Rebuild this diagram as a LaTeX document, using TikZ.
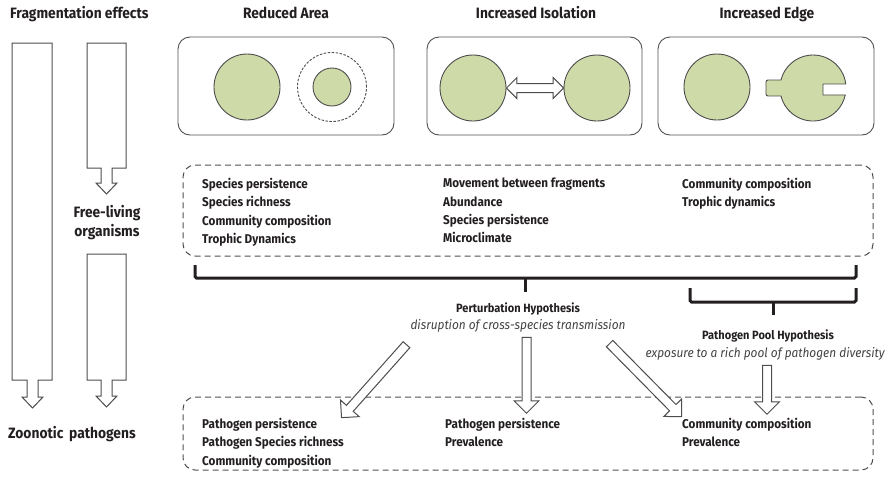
\documentclass[tikz,border=0pt]{standalone}
\usepackage{fontspec}
\setmainfont{Fira Sans}[FakeStretch=0.92]
\usetikzlibrary{shapes.arrows,calc}
\definecolor{leaf}{HTML}{CEDBA8}
\definecolor{ink}{HTML}{231F20}
\definecolor{rim}{HTML}{4D4D4D}
\definecolor{frame}{HTML}{505050}

% block arrow node stretched between two points
\newcommand{\fatlink}[4]{%
  \path let \p1=($(#4)-(#3)$), \n1={atan2(\y1,\x1)}, \n2={veclen(\x1,\y1)} in
    node[#1, minimum height=\n2, rotate=\n1] (#2) at ($(#3)!0.5!(#4)$) {};
}

\begin{document}
\begin{tikzpicture}[x=1pt,y=-1pt,
  every node/.style={text=ink, inner sep=0pt},
  heading/.style={font=\fontsize{15}{17}\selectfont\bfseries, anchor=base},
  item/.style={font=\fontsize{12.7}{18.3}\selectfont\bfseries, align=left, anchor=north west},
  hyp/.style={font=\fontsize{12}{14}\selectfont\bfseries, anchor=base},
  gloss/.style={font=\fontsize{12.9}{14}\selectfont\itshape, text=ink!85, anchor=base},
  panel/.style={draw=frame, line width=0.9pt, rounded corners=12pt},
  patch/.style={circle, draw=rim, fill=leaf, line width=0.9pt, minimum size=66pt},
  zone/.style={draw=frame, line width=1pt, dash pattern=on 6pt off 4pt, rounded corners=12pt},
  brace/.style={draw=ink, line width=3pt, rounded corners=1.5pt},
  outline/.style={draw=rim, fill=white, line width=1pt, line join=miter},
  fatarrow/.style={single arrow, outline, inner xsep=0pt, inner ysep=4pt, single arrow head extend=8pt},
  twoway/.style={double arrow, outline, inner xsep=0pt, inner ysep=4pt, double arrow head extend=6pt},
]
\useasboundingbox (0,0) rectangle (894,482);

% ---- left column: effect arrows ----
\node[heading, anchor=base west] (fragTitle) at (10,18) {Fragmentation effects};
\path[outline] (12,43) -- (52,43) -- (52,380) -- (38,380) -- (38,397) -- (43,397)
  -- (32.5,408) -- (22,397) -- (27,397) -- (27,380) -- (12,380) -- cycle;
\path[outline] (87,43) -- (126,43) -- (126,168) -- (112,168) -- (112,183) -- (117,183)
  -- (106.5,194) -- (96,183) -- (101,183) -- (101,168) -- (87,168) -- cycle;
\path[outline] (87,254) -- (126,254) -- (126,380) -- (112,380) -- (112,396) -- (117,396)
  -- (106.5,407) -- (96,396) -- (101,396) -- (101,380) -- (87,380) -- cycle;
\node[heading] (freeA) at (107,217) {Free-living};
\node[heading] (freeB) at (107,236) {organisms};
\node[heading, anchor=base west] (zoo) at (8,438) {Zoonotic\, pathogens};

% ---- top panels ----
\node[heading] (areaTitle) at (286,18) {Reduced Area};
\node[heading] (isoTitle) at (536,18) {Increased Isolation};
\node[heading] (edgeTitle) at (767,18) {Increased Edge};

\node[panel, minimum width=216pt, minimum height=98pt] (areaPanel) at (286,86) {};
\node[panel, minimum width=215pt, minimum height=98pt] (isoPanel) at (534.5,86) {};
\node[panel, minimum width=216pt, minimum height=98pt] (edgePanel) at (766,86) {};

% reduced area
\node[patch] (areaBig) at (247,87) {};
\node[circle, draw=rim, line width=0.9pt, dash pattern=on 2.5pt off 1.5pt, minimum size=69pt] (areaRing) at (332,87) {};
\node[patch, minimum size=38pt] (areaSmall) at (332,87) {};

% increased isolation
\node[patch] (isoL) at (473,88) {};
\node[patch] (isoR) at (597,88) {};
\path let \p1=($(isoR.west)-(isoL.east)$), \n2={veclen(\x1,\y1)} in
  node[twoway, minimum height=\n2] (isoLink) at ($(isoL.east)!0.5!(isoR.west)$) {};

% increased edge
\node[patch] (edgeL) at (717,87) {};
\begin{scope}[shift={(813,88)}, y=1pt]
  \filldraw[draw=rim, fill=leaf, line width=0.9pt]
    (7:33) arc[start angle=7, end angle=166, radius=33]
    -- (-46,8) [rounded corners=2pt] -- (-47,8) -- (-47,-8) [sharp corners] -- (194:33)
    arc[start angle=194, end angle=347.8, radius=33]
    -- (10,-7) -- (10,4) -- cycle;
\end{scope}

% ---- responses of free-living organisms ----
\node[zone, minimum width=690pt, minimum height=91pt] (freeZone) at (528,210.5) {};
\node[item] (freeA1) at (202,178) {Species persistence\\Species richness\\Community composition\\Trophic Dynamics};
\node[item] (freeA2) at (443,178) {Movement between fragments\\Abundance\\Species persistence\\Microclimate};
\node[item] (freeA3) at (682,178) {Community composition\\Trophic dynamics};

% ---- brackets ----
\draw[brace] (195,265) -- (195,278) -- (856,278) -- (856,265);
\draw[brace] (525,278) -- (525,292);
\draw[brace] (690,288) -- (690,302) -- (856,302) -- (856,288);
\draw[brace] (773,302) -- (773,315);

% ---- hypotheses ----
\node[hyp] (perturb) at (518,312) {Perturbation Hypothesis};
\node[gloss] (perturbGloss) at (518,329) {disruption of cross-species transmission};
\node[hyp] (pool) at (768,339) {Pathogen Pool Hypothesis};
\node[gloss] (poolGloss) at (765,357) {exposure to a rich pool of pathogen diversity};

% ---- responses of zoonotic pathogens ----
\node[zone, minimum width=690pt, minimum height=73pt] (pathZone) at (528,433.5) {};
\node[item] (pathA1) at (202,418) {Pathogen persistence\\Pathogen Species richness\\Community composition};
\node[item] (pathA2) at (445,418) {Pathogen persistence\\Prevalence};
\node[item] (pathA3) at (682,418) {Community composition\\Prevalence};

% ---- arrows from hypotheses to pathogen responses ----
\coordinate (pL0) at (408,343);  \coordinate (pL1) at (343,416);
\coordinate (pM0) at (526.5,335); \coordinate (pM1) at (526.5,411);
\coordinate (pR0) at (608,342);  \coordinate (pR1) at (680,415);
\coordinate (pP0) at (767,363);  \coordinate (pP1) at (767,412);
\fatlink{fatarrow}{toAreaPath}{pL0}{pL1}
\fatlink{fatarrow}{toIsoPath}{pM0}{pM1}
\fatlink{fatarrow}{toEdgePath}{pR0}{pR1}
\fatlink{fatarrow}{toPoolPath}{pP0}{pP1}
\end{tikzpicture}
\end{document}
